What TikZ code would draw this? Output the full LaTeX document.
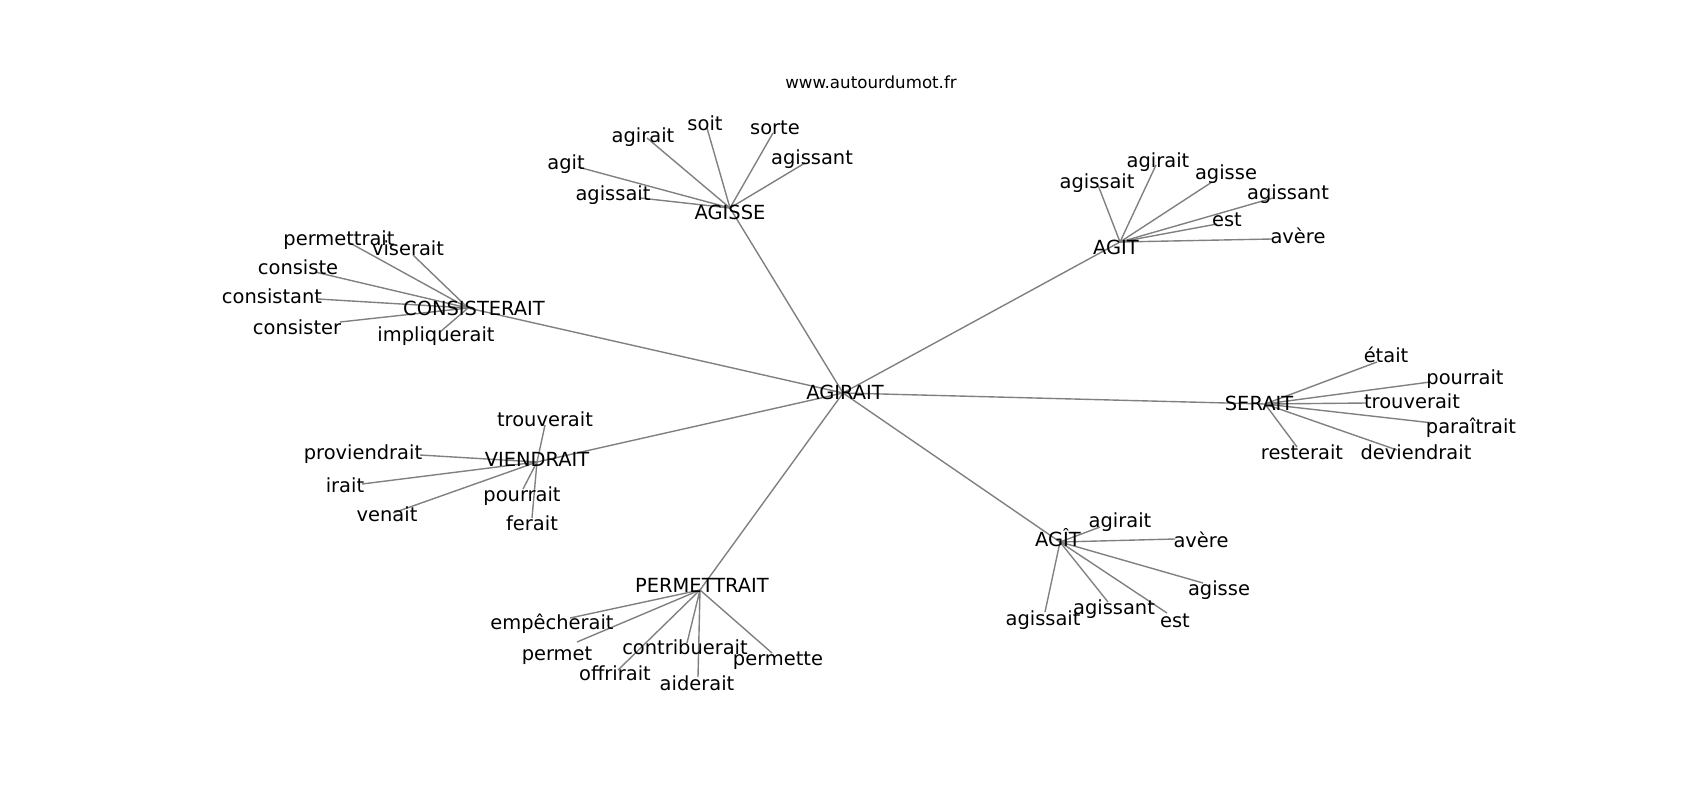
\documentclass[tikz,border=0pt]{standalone}
\usepackage{fontspec}
\setmainfont{DejaVu Sans}
\tikzset{
  edge/.style={draw=gray, line width=1pt},
  lbl/.style={font=\fontsize{14}{17}\selectfont, text=black, anchor=base, yshift=-5.2pt, inner sep=0pt},
  ttl/.style={font=\fontsize{12}{14}\selectfont, text=black, anchor=base, yshift=-4.4pt, inner sep=0pt}
}
\begin{document}
\begin{tikzpicture}[x=0.72pt, y=-0.72pt]
\useasboundingbox[fill=white] (0,0) rectangle (1700,800);
% hub positions
\foreach \id/\x/\y in {c/843/393, ag/730/208, at/1120/242, cs/468/308, se/1265/404, vi/537/462, pe/700/590, ai/1060/542}
  \coordinate (\id) at (\x,\y);
% leaf end points
\foreach \id/\x/\y in {
  ag1/647/138, ag2/707/128, ag3/773/133, ag4/805/163, ag5/578/167, ag6/640/198,
  at1/1098/185, at2/1156/165, at3/1212/182, at4/1273/198, at5/1217/224, at6/1272/239,
  cs1/350/243, cs2/413/255, cs3/315/272, cs4/318/299, cs5/340/322, cs6/440/332,
  se1/1377/362, se2/1430/382, se3/1367/403, se4/1433/423, se5/1297/447, se6/1397/450,
  vi1/545/425, vi2/420/455, vi3/362/484, vi4/393/513, vi5/523/489, vi6/532/518,
  pe1/570/618, pe2/577/642, pe3/618/670, pe4/687/643, pe5/698/677, pe6/772/653,
  ai1/1100/527, ai2/1175/539, ai3/1203/583, ai4/1108/602, ai5/1167/613, ai6/1045/612}
  \coordinate (\id) at (\x,\y);
% edges from the centre
\foreach \b in {ag, at, cs, se, vi, pe, ai}
  \draw[edge] (c) -- (\b);
% edges from each hub
\foreach \h in {ag, at, cs, se, vi, pe, ai}
  \foreach \i in {1,...,6}
    \draw[edge] (\h) -- (\h\i);
% hub labels
\foreach \id/\x/\y/\t in {c/845/392/AGIRAIT, ag/730/212/AGISSE, at/1116/247/AGIT, cs/474/308/CONSISTERAIT, se/1259/403/SERAIT, vi/537/459/VIENDRAIT, pe/702/585/PERMETTRAIT, ai/1058/539/AGÎT}
  \node[lbl] (t\id) at (\x,\y) {\t};
% leaf labels
\foreach \id/\x/\y/\t in {
  ag1/643/135/agirait, ag2/705/123/soit, ag3/775/127/sorte, ag4/812/157/agissant, ag5/566/162/agit, ag6/613/193/agissait,
  at1/1097/181/agissait, at2/1158/160/agirait, at3/1226/172/agisse, at4/1288/192/agissant, at5/1227/219/est, at6/1298/236/avère,
  cs1/339/238/permettrait, cs2/408/248/viserait, cs3/298/267/consiste, cs4/272/296/consistant, cs5/297/327/consister, cs6/436/334/impliquerait,
  se1/1386/355/était, se2/1465/377/pourrait, se3/1412/401/trouverait, se4/1471/426/paraîtrait, se5/1302/452/resterait, se6/1416/452/deviendrait,
  vi1/545/419/trouverait, vi2/363/452/proviendrait, vi3/345/485/irait, vi4/387/514/venait, vi5/522/494/pourrait, vi6/532/523/ferait,
  pe1/552/622/empêcherait, pe2/557/653/permet, pe3/615/673/offrirait, pe4/685/647/contribuerait, pe5/697/683/aiderait, pe6/778/658/permette,
  ai1/1120/520/agirait, ai2/1201/540/avère, ai3/1219/588/agisse, ai4/1114/607/agissant, ai5/1175/620/est, ai6/1043/618/agissait}
  \node[lbl] (t\id) at (\x,\y) {\t};
% title
\node[ttl] (title) at (871,82) {www.autourdumot.fr};
\end{tikzpicture}
\end{document}
